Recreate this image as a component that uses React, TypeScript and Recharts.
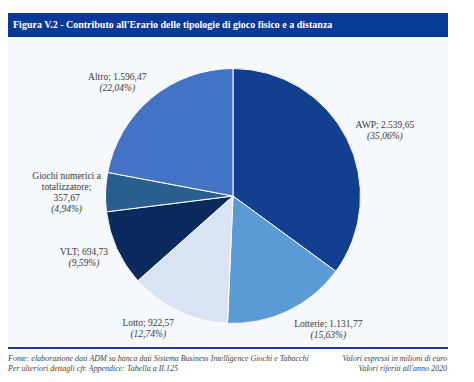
import React from "react";
import { PieChart, Pie, Cell } from "recharts";

// Contributo all'Erario (milioni di euro, anno 2020)
const categories = ["AWP", "Lotterie", "Lotto", "VLT", "Giochi numerici a totalizzatore", "Altro"];
const values = [2539.65, 1131.77, 922.57, 694.73, 357.67, 1596.47];
const colors = ["#123f8f", "#5b9bd5", "#dae3f3", "#0b2a5e", "#2a5d90", "#4472c4"];
// small hand nudges so labels sit where Excel put them
const labelNudge = [
  [7, 8],
  [25, -13],
  [-15, -14],
  [-1, -6],
  [-4, 1],
  [-12, 12],
];

const total = values.reduce((a, b) => a + b, 0);
const data = categories.map((name, i) => ({ name, value: values[i] }));

const SERIF = "'Liberation Serif', 'Times New Roman', serif";

function fmtIt(n: number, digits = 2): string {
  const [int, dec] = n.toFixed(digits).split(".");
  const grouped = int.replace(/\B(?=(\d{3})+(?!\d))/g, ".");
  return `${grouped},${dec}`;
}

function wrapName(name: string, max = 17): string[] {
  const words = name.split(" ");
  const lines: string[] = [];
  let cur = "";
  for (const w of words) {
    const next = cur ? `${cur} ${w}` : w;
    if (next.length > max && cur) {
      lines.push(cur);
      cur = w;
    } else cur = next;
  }
  if (cur) lines.push(cur);
  return lines;
}

const RAD = Math.PI / 180;

function renderLabel(props: any) {
  const { cx, cy, midAngle, outerRadius, index, name, value } = props;
  const r = outerRadius + 35;
  const [nx, ny] = labelNudge[index] ?? [0, 0];
  const x = cx + r * Math.cos(-midAngle * RAD) + nx;
  const y = cy + r * Math.sin(-midAngle * RAD) + ny;
  const pct = `(${fmtIt((value / total) * 100)}%)`;
  let lines: { t: string; italic?: boolean }[];
  if (name.length > 17) {
    const nl = wrapName(name);
    lines = nl.map((t, i) => ({ t: i === nl.length - 1 ? `${t};` : t }));
    lines.push({ t: fmtIt(value) });
  } else {
    lines = [{ t: `${name}; ${fmtIt(value)}` }];
  }
  lines.push({ t: pct, italic: true });
  const lh = 11;
  const top = y - ((lines.length - 1) * lh) / 2;
  return (
    <text
      key={`lbl-${index}`}
      x={x}
      y={top}
      textAnchor="middle"
      dominantBaseline="central"
      fontFamily={SERIF}
      fontSize={9.5}
      fill="#3a3a3a"
    >
      {lines.map((l, i) => (
        <tspan key={i} x={x} y={top + i * lh} fontStyle={l.italic ? "italic" : "normal"}>
          {l.t}
        </tspan>
      ))}
    </text>
  );
}

export default function App() {
  return (
    <div style={{ position: "relative", width: 474, height: 382, margin: -8, background: "#fff", fontFamily: SERIF }}>
      <div
        style={{
          position: "absolute",
          left: 7,
          top: 13,
          width: 441,
          height: 24,
          background: "#0a3a98",
          color: "#fff",
          fontWeight: "bold",
          fontSize: 10,
          lineHeight: "24px",
          paddingLeft: 6,
          boxSizing: "border-box",
        }}
      >
        Figura V.2 - Contributo all'Erario delle tipologie di gioco fisico e a distanza
      </div>
      <div style={{ position: "absolute", left: 7, top: 37, width: 441, height: 310, background: "#f5f8fc" }}>
        <PieChart width={441} height={310} margin={{ top: 0, right: 0, bottom: 0, left: 0 }}>
          <Pie
            data={data}
            dataKey="value"
            nameKey="name"
            cx={226}
            cy={159}
            outerRadius={127.5}
            startAngle={90}
            endAngle={-270}
            stroke="#ffffff"
            strokeWidth={1}
            label={renderLabel}
            labelLine={false}
            isAnimationActive={false}
          >
            {data.map((d, i) => (
              <Cell key={d.name} fill={colors[i]} />
            ))}
          </Pie>
        </PieChart>
      </div>
      <div style={{ position: "absolute", left: 7, top: 347, width: 441, height: 2, background: "#1f3b7b" }} />
      <div
        style={{
          position: "absolute",
          left: 8,
          top: 354,
          width: 439,
          fontSize: 8,
          fontStyle: "italic",
          color: "#404040",
          lineHeight: "10px",
          display: "flex",
          justifyContent: "space-between",
        }}
      >
        <div>
          Fonte: elaborazione dati ADM su banca dati Sistema Business Intelligence Giochi e Tabacchi
          <br />
          Per ulteriori dettagli cfr. Appendice: Tabella a II.125
        </div>
        <div style={{ textAlign: "right" }}>
          Valori espressi in milioni di euro
          <br />
          Valori riferiti all'anno 2020
        </div>
      </div>
    </div>
  );
}
